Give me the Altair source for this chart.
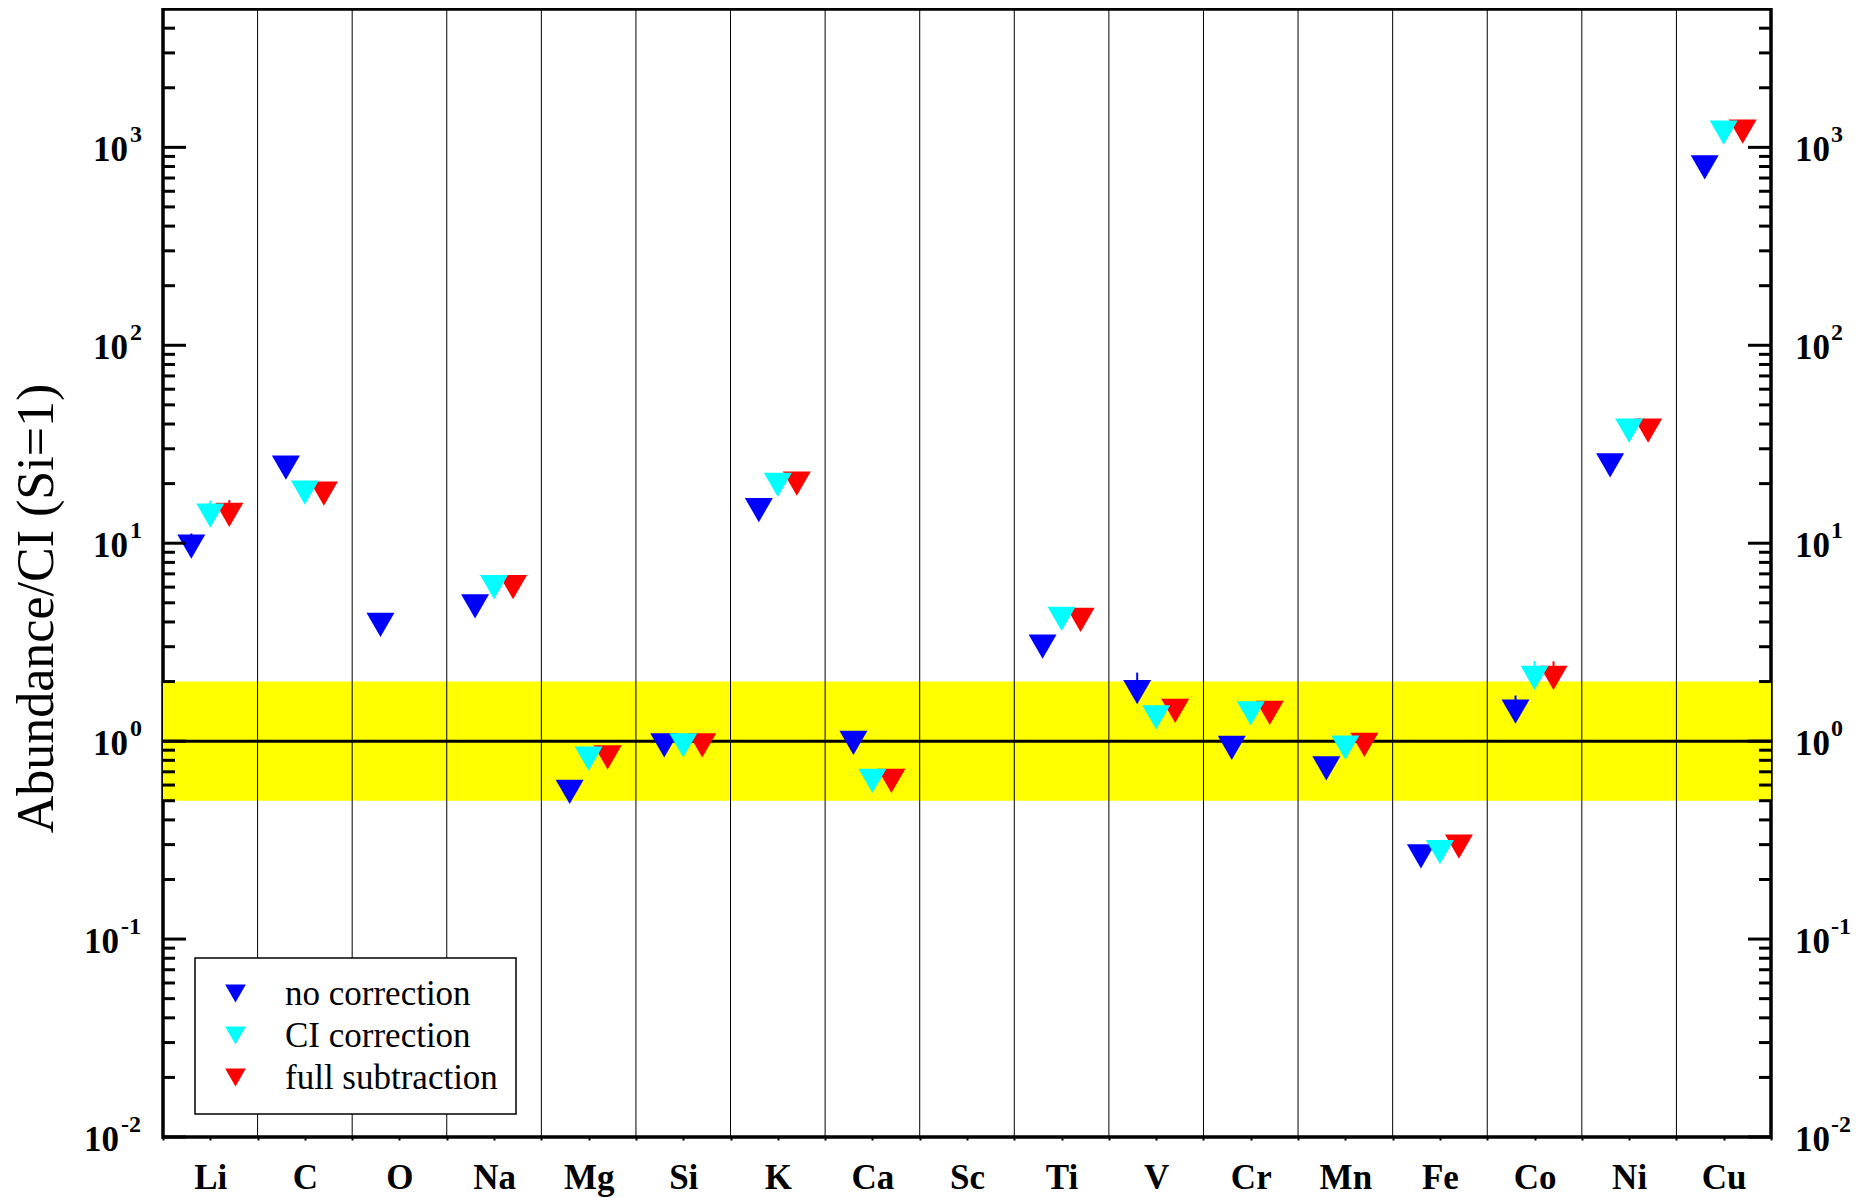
import json
import altair as alt
import pandas as pd

# ---------------- data ----------------
elements = ["Li", "C", "O", "Na", "Mg", "Si", "K", "Ca", "Sc", "Ti", "V", "Cr", "Mn", "Fe", "Co", "Ni", "Cu"]

no_correction = [9.6, 24.1, 3.87, 4.79, 0.555, 0.951, 14.7, 0.98, None, 3.0, 1.77, 0.925, 0.728, 0.262, 1.41, 24.7, 792]
ci_correction = [13.8, 18.0, None, 6.0, 0.816, 0.951, 19.7, 0.629, None, 4.15, 1.32, 1.38, 0.926, 0.275, 2.09, 37.0, 1188]
full_subtraction = [13.9, 17.8, None, 6.0, 0.828, 0.951, 20.0, 0.63, None, 4.1, 1.42, 1.39, 0.958, 0.293, 2.09, 37.0, 1200]

no_correction_upper = [11.2, None, None, None, None, None, None, None, None, None, 2.22, None, None, None, 1.70, None, None]
ci_correction_upper = [16.4, None, None, None, None, None, None, None, None, None, None, None, None, None, 2.54, None, None]
full_subtraction_upper = [16.5, None, None, None, None, None, None, None, None, None, None, None, None, None, 2.53, None, None]

series_names = ["no correction", "CI correction", "full subtraction"]
series_colors = ["#0000ff", "#00ffff", "#ff0000"]

band_low = [0.5]
band_high = [2.0]
ref_line = [1.0]

decades = [0.01, 0.1, 1, 10, 100, 1000]
exponents = ["-2", "-1", "0", "1", "2", "3"]
minor_ticks = [m * 10.0 ** k for k in range(-2, 4) for m in range(2, 10) if m * 10.0 ** k < 4999]

# ---------------- tables ----------------
rows = []
for s, vals, ups in zip(series_names,
                        [no_correction, ci_correction, full_subtraction],
                        [no_correction_upper, ci_correction_upper, full_subtraction_upper]):
    for i, (el, v, u) in enumerate(zip(elements, vals, ups)):
        if v is not None:
            rows.append({"idx": i, "element": el, "series": s, "value": v, "upper": u})
points = pd.DataFrame(rows)

seps = pd.DataFrame({"sep": [i + 0.5 for i in range(len(elements) - 1)]})
band = pd.DataFrame({"lo": band_low, "hi": band_high})
hline = pd.DataFrame({"y": ref_line})
dec_df = pd.DataFrame({"decade": decades, "exp": exponents})
minor_df = pd.DataFrame({"tick": minor_ticks})

W, H = 1608, 1128
FONT = "Liberation Serif"

xscale = alt.Scale(domain=[-0.5, len(elements) - 0.5], nice=False, zero=False)
yscale = alt.Scale(type="log", domain=[0.01, 5000], nice=False)

label_expr = f"datum.value % 1 == 0 ? {json.dumps(elements)}[datum.value] : ''"

x_axis = alt.Axis(
    values=[k / 2 for k in range(-1, 2 * len(elements))],
    labelExpr=label_expr, title=None, grid=False, domain=False,
    ticks=True, tickSize=3, tickWidth=2, tickColor="black",
    labelFont=FONT, labelFontWeight="bold", labelFontSize=35, labelColor="black",
    labelBaseline="alphabetic", labelPadding=48, labelFlush=False, labelOverlap=False,
)
y_axis = alt.Axis(
    title="Abundance/CI (Si=1)", labels=False, ticks=False, domain=False, grid=False,
    titleFont=FONT, titleFontSize=52, titleFontWeight="normal", titleColor="black",
    titleX=-111, titleY=599, titleAngle=270, titleAlign="center", titleBaseline="alphabetic",
)

legend = alt.Legend(
    title=None, orient="none", legendX=32, legendY=949, direction="vertical",
    fillColor="white", strokeColor="black", padding=18, rowPadding=6,
    symbolType="triangle-down", symbolSize=430, symbolStrokeWidth=0, symbolOpacity=1,
    symbolOffset=5, labelOffset=32, labelLimit=500,
    labelFont=FONT, labelFontSize=35, labelColor="black",
)
cscale = alt.Scale(domain=series_names, range=series_colors)

def X(field):
    return alt.X(f"{field}:Q", scale=xscale, axis=x_axis)

def Y(field):
    return alt.Y(f"{field}:Q", scale=yscale, axis=y_axis)

# yellow band
band_layer = alt.Chart(band).mark_rect(color="#ffff00").encode(
    x=alt.value(0), x2=alt.value(W), y=Y("lo"), y2="hi:Q",
)

sep_layer = alt.Chart(seps).mark_rule(color="black", strokeWidth=1).encode(x=X("sep"))

h_layer = alt.Chart(hline).mark_rule(color="black", strokeWidth=3).encode(
    y=Y("y"), x=alt.value(0), x2=alt.value(W),
)

offsets = {"no correction": -19, "CI correction": 0, "full subtraction": 19}

def stub(name, color):
    return alt.Chart(points).transform_filter(
        (alt.datum.series == name) & alt.expr.isValid(alt.datum.upper)
    ).mark_rule(xOffset=offsets[name], strokeWidth=2, color=color).encode(
        x=X("idx"), y=Y("value"), y2="upper:Q",
    )

def pts(name):
    return alt.Chart(points).transform_filter(alt.datum.series == name).mark_point(
        shape="triangle-down", filled=True, size=784, opacity=1, strokeWidth=0,
        xOffset=offsets[name],
    ).encode(
        x=X("idx"), y=Y("value"),
        color=alt.Color("series:N", scale=cscale, legend=legend),
    )

def tick_rules(df, field, x0, x1):
    return alt.Chart(df).mark_rule(color="black", strokeWidth=3).encode(
        y=Y(field), x=alt.value(x0), x2=alt.value(x1),
    )

def base_text(filt, x, align):
    return alt.Chart(dec_df).transform_filter(filt).mark_text(
        font=FONT, fontWeight="bold", fontSize=35, align=align, baseline="middle", dy=3, color="black",
    ).encode(y=Y("decade"), x=alt.value(x), text=alt.value("10"))

def exp_text(filt, x, align):
    return alt.Chart(dec_df).transform_filter(filt).mark_text(
        font=FONT, fontWeight="bold", fontSize=24, align=align, baseline="middle", dy=-12, color="black",
    ).encode(y=Y("decade"), x=alt.value(x), text="exp:N")

pos = alt.datum.decade >= 1
neg = alt.datum.decade < 1

layers = [
    band_layer, sep_layer, h_layer,
    stub("no correction", series_colors[0]),
    stub("CI correction", series_colors[1]),
    stub("full subtraction", series_colors[2]),
    pts("no correction"), pts("full subtraction"), pts("CI correction"),
    tick_rules(dec_df, "decade", 0, 23), tick_rules(minor_df, "tick", 0, 12),
    tick_rules(dec_df, "decade", W, W - 23), tick_rules(minor_df, "tick", W, W - 12),
    base_text(pos, -35, "right"), exp_text(pos, -33, "left"),
    base_text(neg, -44, "right"), exp_text(neg, -42, "left"),
    base_text(pos, W + 24, "left"), exp_text(pos, W + 60, "left"),
    base_text(neg, W + 24, "left"), exp_text(neg, W + 60, "left"),
]

chart = alt.layer(*layers).properties(
    width=W, height=H,
    autosize=alt.AutoSizeParams(type="none"),
    padding={"left": 155, "top": 1, "right": 82, "bottom": 64},
    background="white",
).configure_view(stroke="black", strokeWidth=3.5).configure_legend(strokeWidth=1.5)

chart.save("out.html", embed_options={"renderer": "svg", "actions": False})
